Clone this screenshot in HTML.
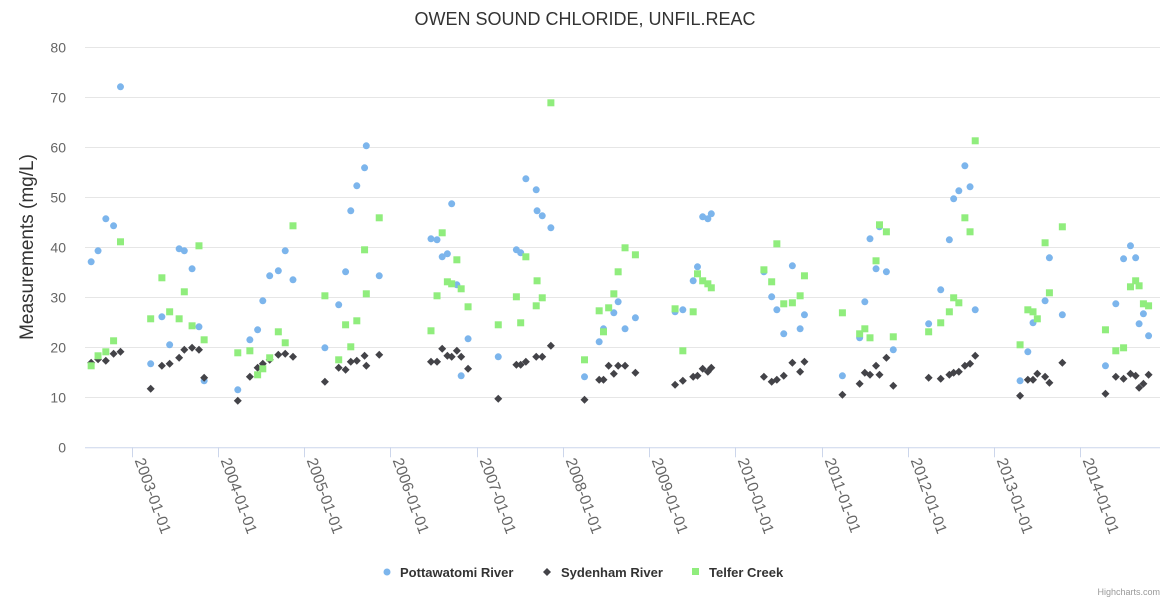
<!DOCTYPE html>
<html><head><meta charset="utf-8"><style>
html,body{margin:0;padding:0;background:#fff;}
svg{display:block;font-family:"Liberation Sans",sans-serif;}
</style></head><body>
<svg id="chart" width="1170" height="600" viewBox="0 0 1170 600" xmlns="http://www.w3.org/2000/svg">
<text x="585" y="25" text-anchor="middle" font-size="18" fill="#333">OWEN SOUND CHLORIDE, UNFIL.REAC</text>
<g id="grid"></g>
<g id="yaxis"></g>
<text transform="translate(33,247) rotate(-90)" text-anchor="middle" font-size="19" fill="#333">Measurements (mg/L)</text>
<g id="xaxis"></g>
<g id="series"></g>
<g font-size="13" font-weight="bold" fill="#333">
<g><circle cx="387" cy="572" r="3.5" fill="#7cb5ec"/><text x="400" y="577">Pottawatomi River</text></g>
<g><path d="M547 568 L551 572 L547 576 L543 572 Z" fill="#434348"/><text x="561" y="577">Sydenham River</text></g>
<g><rect x="692" y="568" width="7" height="7" fill="#90ed7d"/><text x="709" y="577">Telfer Creek</text></g>
</g>
<text x="1160" y="595" text-anchor="end" font-size="9" fill="#999">Highcharts.com</text>
</svg>
<script>
const dates=[2002.53,2002.61,2002.70,2002.79,2002.87,
2003.22,2003.35,2003.44,2003.55,2003.61,2003.70,2003.78,2003.84,
2004.23,2004.37,2004.46,2004.52,2004.60,2004.70,2004.78,2004.87,
2005.24,2005.40,2005.48,2005.54,2005.61,2005.70,2005.72,2005.87,
2006.47,2006.54,2006.60,2006.66,2006.71,2006.77,2006.82,2006.90,
2007.25,2007.46,2007.51,2007.57,2007.69,2007.70,2007.76,2007.86,
2008.25,2008.42,2008.47,2008.53,2008.59,2008.64,2008.72,2008.84,
2009.30,2009.39,2009.51,2009.56,2009.62,2009.68,2009.72,
2010.33,2010.42,2010.48,2010.56,2010.66,2010.75,2010.80,
2011.24,2011.44,2011.50,2011.56,2011.63,2011.67,2011.75,2011.83,
2012.24,2012.38,2012.48,2012.53,2012.59,2012.66,2012.72,2012.78,
2013.30,2013.39,2013.45,2013.50,2013.59,2013.64,2013.79,
2014.29,2014.41,2014.50,2014.58,2014.64,2014.68,2014.73,2014.79];
const pottawatomi=[37.1,39.3,45.7,44.3,72.1,
16.7,26.1,20.5,39.7,39.3,35.7,24.1,13.3,
11.5,21.5,23.5,29.3,34.3,35.3,39.3,33.5,
19.9,28.5,35.1,47.3,52.3,55.9,60.3,34.3,
41.7,41.5,38.1,38.7,48.7,32.5,14.3,21.7,
18.1,39.5,38.9,53.7,51.5,47.3,46.3,43.9,
14.1,21.1,23.7,null,26.9,29.1,23.7,25.9,
27.1,27.5,33.3,36.1,46.1,45.7,46.7,
35.1,30.1,27.5,22.7,36.3,23.7,26.5,
14.3,21.9,29.1,41.7,35.7,44.1,35.1,19.5,
24.7,31.5,41.5,49.7,51.3,56.3,52.1,27.5,
13.3,19.1,24.9,null,29.3,37.9,26.5,
16.3,28.7,37.7,40.3,37.9,24.7,26.7,22.3];
const sydenham=[16.9,17.6,17.3,18.7,19.1,
11.7,16.3,16.7,17.9,19.5,19.9,19.5,13.9,
9.3,14.1,15.9,16.7,17.5,18.5,18.7,18.1,
13.1,15.9,15.5,17.1,17.3,18.3,16.3,18.5,
17.1,17.1,19.7,18.3,18.1,19.3,18.1,15.7,
9.7,16.5,16.5,17.1,18.1,null,18.1,20.3,
9.5,13.5,13.5,16.3,14.7,16.3,16.3,14.9,
12.5,13.3,14.1,14.3,15.7,15.1,15.9,
14.1,13.1,13.5,14.3,16.9,15.1,17.1,
10.5,12.7,14.9,14.5,16.3,14.5,17.9,12.3,
13.9,13.7,14.5,14.9,15.1,16.3,16.7,18.3,
10.3,13.5,13.5,14.7,14.1,12.9,16.9,
10.7,14.1,13.7,14.7,14.3,11.9,12.7,14.5];
const telfer=[16.3,18.3,19.1,21.3,41.1,
25.7,33.9,27.1,25.7,31.1,24.3,40.3,21.5,
18.9,19.3,14.5,15.7,17.9,23.1,20.9,44.3,
30.3,17.5,24.5,20.1,25.3,39.5,30.7,45.9,
23.3,30.3,42.9,33.1,32.7,37.5,31.7,28.1,
24.5,30.1,24.9,38.1,28.3,33.3,29.9,68.9,
17.5,27.3,23.1,27.9,30.7,35.1,39.9,38.5,
27.7,19.3,27.1,34.7,33.3,32.7,31.9,
35.5,33.1,40.7,28.7,28.9,30.3,34.3,
26.9,22.7,23.7,21.9,37.3,44.5,43.1,22.1,
23.1,24.9,27.1,29.9,28.9,45.9,43.1,61.3,
20.5,27.5,27.1,25.7,40.9,30.9,44.1,
23.5,19.3,19.9,32.1,33.3,32.3,28.7,28.3];
const yTicks=[0,10,20,30,40,50,60,70,80];
const xTickYears=[2003,2004,2005,2006,2007,2008,2009,2010,2011,2012,2013,2014];

const NS="http://www.w3.org/2000/svg";
const PL=85,PR=1160,PT=47.3,PB=447.3,YMAX=80;
const X0=131.7,PXY=86.25;
function xs(t){return X0+(t-2003)*PXY;}
function ys(v){return PB-(v/YMAX)*(PB-PT);}
function mk(tag,attrs,parent){const e=document.createElementNS(NS,tag);for(const k in attrs)e.setAttribute(k,attrs[k]);parent.appendChild(e);return e;}

const grid=document.getElementById('grid'),yaxis=document.getElementById('yaxis'),xaxis=document.getElementById('xaxis'),series=document.getElementById('series');
yTicks.forEach(v=>{
  const y=Math.round(ys(v))+0.5;
  if(v>0){const l=mk('line',{x1:PL,x2:PR,y1:y,y2:y,stroke:'#e6e6e6','stroke-width':1},grid);
  
  }
  const t=mk('text',{x:66,y:y+5,'text-anchor':'end','font-size':14,fill:'#666'},yaxis);
  t.textContent=v;
  
  
});
const axl=mk('line',{x1:PL,x2:PR,y1:PB+0.5,y2:PB+0.5,stroke:'#ccd6eb','stroke-width':1},xaxis);


xTickYears.forEach(yr=>{
  const x=Math.round(xs(yr))+0.5;
  const tk=mk('line',{x1:x,x2:x,y1:PB,y2:PB+10,stroke:'#ccd6eb','stroke-width':1},xaxis);
  
  
  const t=mk('text',{transform:'translate('+(x+2)+','+(PB+13)+') rotate(70)','font-size':15.5,fill:'#666'},xaxis);
  t.textContent=yr+'-01-01';
  
  
});
function draw(vals,kind,name){
  const g=mk('g',{},series);
  
  
  vals.forEach((v,i)=>{
    if(v===null)return;
    const x=xs(dates[i]),y=ys(v);let e;
    if(kind==='circle')e=mk('circle',{cx:x,cy:y,r:3.5,fill:'#7cb5ec'},g);
    else if(kind==='diamond')e=mk('path',{d:'M'+x+' '+(y-4)+' L'+(x+4)+' '+y+' L'+x+' '+(y+4)+' L'+(x-4)+' '+y+' Z',fill:'#434348'},g);
    else e=mk('rect',{x:x-3.5,y:y-3.5,width:7,height:7,fill:'#90ed7d'},g);
    
    
  });
}
draw(pottawatomi,'circle','pottawatomi');
draw(sydenham,'diamond','sydenham');
draw(telfer,'square','telfer');
</script>
</body></html>
